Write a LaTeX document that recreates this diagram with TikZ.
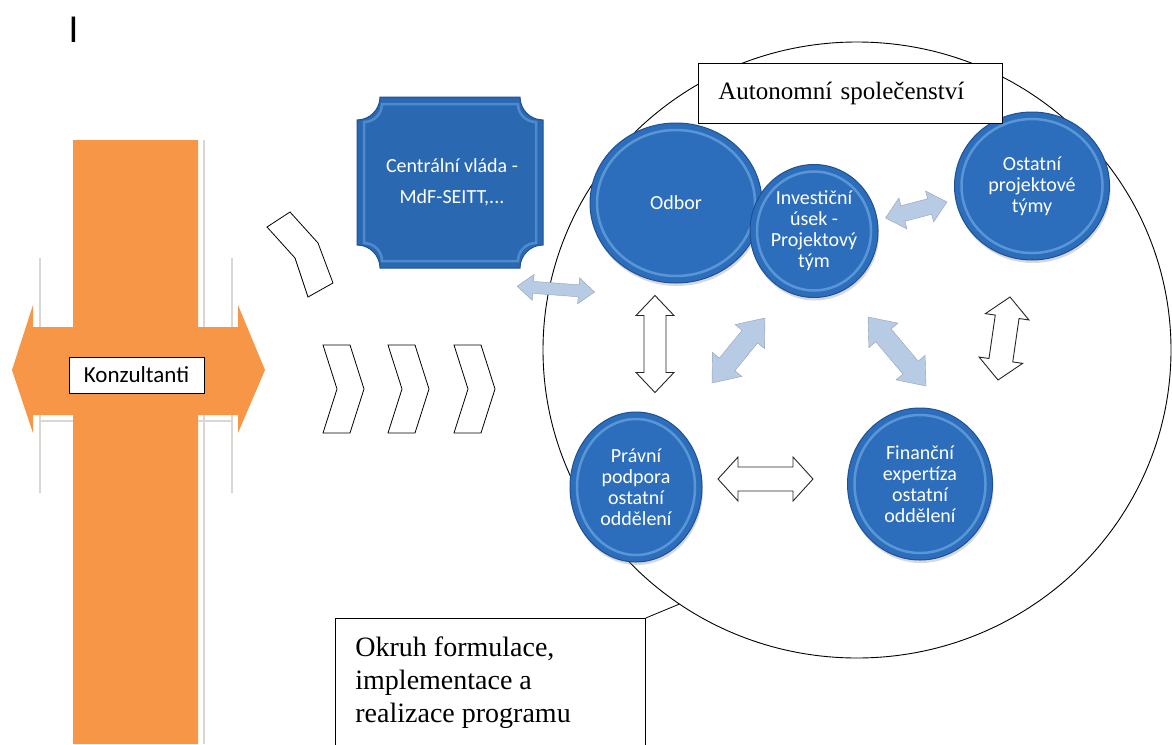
\documentclass[tikz,border=0pt]{standalone}
\usepackage{fontspec}
\setmainfont{Liberation Serif}
\newfontfamily\calibri{Carlito}
\newfontfamily\arialfont{Liberation Sans}
\usetikzlibrary{calc,shapes.geometric,shadows}

\definecolor{consorange}{RGB}{247,150,70}
\definecolor{unitblue}{RGB}{44,110,188}
\definecolor{unitedge}{RGB}{30,80,148}
\definecolor{unitrim}{RGB}{110,168,226}
\definecolor{govblue}{RGB}{42,104,178}
\definecolor{linkblue}{RGB}{184,203,228}
\definecolor{glowgray}{RGB}{218,214,210}

% plaque with hollow corners: style, x1, y1, x2, y2, corner
\newcommand\plaque[6]{%
  \path[#1] ({#2+#6},#3) -- ({#4-#6},#3)
    .. controls ({#4-#6},{#3+0.552*#6}) and ({#4-0.552*#6},{#3+#6}) .. (#4,{#3+#6})
    -- (#4,{#5-#6})
    .. controls ({#4-0.552*#6},{#5-#6}) and ({#4-#6},{#5-0.552*#6}) .. ({#4-#6},#5)
    -- ({#2+#6},#5)
    .. controls ({#2+#6},{#5-0.552*#6}) and ({#2+0.552*#6},{#5-#6}) .. (#2,{#5-#6})
    -- (#2,{#3+#6})
    .. controls ({#2+0.552*#6},{#3+#6}) and ({#2+#6},{#3+0.552*#6}) .. ({#2+#6},#3)
    -- cycle;}

% block arrow with two heads: style, from, to, head length, head half width, shaft half width
\newcommand\blockarrow[6][]{%
  \coordinate (ba-p) at ($(#2)!#4!(#3)$);
  \coordinate (ba-q) at ($(#3)!#4!(#2)$);
  \path[#1] (#2) -- ($(ba-p)!#5!90:(#3)$) -- ($(ba-p)!#6!90:(#3)$)
    -- ($(ba-q)!#6!90:(#3)$) -- ($(ba-q)!#5!90:(#3)$) -- (#3)
    -- ($(ba-q)!#5!-90:(#3)$) -- ($(ba-q)!#6!-90:(#3)$)
    -- ($(ba-p)!#6!-90:(#3)$) -- ($(ba-p)!#5!-90:(#3)$) -- cycle;}

\tikzset{
  unit/.style={ellipse, inner sep=0pt, fill=unitblue, draw=unitedge, line width=1pt,
    text=white, align=center, font=\calibri\fontsize{20}{21}\selectfont,
    drop shadow={shadow xshift=1pt, shadow yshift=-3pt, opacity=.3},
    path picture={\draw[unitrim, line width=2.5pt, opacity=.7]
      let \p1=(path picture bounding box.north east), \p2=(path picture bounding box.center)
      in (\p2) ellipse ({abs(\x1-\x2)-7} and {abs(\y1-\y2)-7});}},
  textbox/.style={draw=black, fill=white, line width=0.8pt, inner sep=0pt},
  chev/.style={draw=black, line width=0.8pt, fill=white},
  linkarrow/.style={fill=linkblue, draw=linkblue!80!black, line width=0.4pt},
  hollowarrow/.style={fill=white, draw=black!85, line width=0.9pt}
}

\begin{document}
\begin{tikzpicture}[x=1pt, y=-1pt]
\fill[white] (0,0) rectangle (1172,744);
\useasboundingbox (0,0) rectangle (1172,744);

\node[inner sep=0pt, font=\arialfont\fontsize{37}{37}\selectfont] (mark) at (73.5,29.5) {I};

% consultants
\draw[glowgray, line width=1.2pt] (40,258) -- (40,493) (232,258) -- (232,493)
  (204,140) -- (204,744) (40,421) -- (73,421) (198,421) -- (232,421);
\fill[consorange] (73,140) -- (198,140) -- (198,327) -- (238,327) -- (238,305)
  -- (265,370) -- (238,433) -- (238,415) -- (198,415) -- (198,744) -- (73,744)
  -- (73,415) -- (33,415) -- (33,433) -- (12,370) -- (33,305) -- (33,327)
  -- (73,327) -- cycle;
\node[textbox, minimum width=135, minimum height=36,
  font=\calibri\fontsize{23}{23}\selectfont] (konz) at (136.5,375) {Konzultanti};

% chevrons
\draw[chev] (267,227) -- (290,212) -- (318,243) -- (333,283) -- (308,297) -- (295,258) -- cycle;
\foreach \cx in {323,388,454}
  \draw[chev] (\cx,345) -- ++(27,0) -- ++(14,44) -- ++(-14,44) -- ++(-27,0) -- ++(14,-44) -- cycle;

% central government
\plaque{fill=govblue, draw=unitedge, line width=1pt}{357}{97}{543}{268}{23}
\plaque{draw=unitrim, line width=2.5pt, opacity=.55}{364}{104}{536}{261}{18}
\node[minimum width=186, minimum height=171, text=white, align=center,
  font=\calibri\fontsize{20}{31}\selectfont] (gov) at (452,182.5) {Centrální vláda -\\MdF-SEITT,...};

% the company
\node[ellipse, draw, line width=0.9pt, minimum width=628, minimum height=616, inner sep=0pt] (ring) at (857,350) {};

\node[unit, minimum width=172, minimum height=160] (odbor) at (676,203) {Odbor};
\node[unit, minimum width=128, minimum height=133] (invest) at (814,231) {Investiční\\úsek -\\Projektový\\tým};
\node[unit, minimum width=155, minimum height=148] (ostatni) at (1032,186) {Ostatní\\projektové\\týmy};
\node[unit, minimum width=132, minimum height=150] (pravni) at (636,487) {Právní\\podpora\\ostatní\\oddělení};
\node[unit, minimum width=145, minimum height=152] (financni) at (920,484) {Finanční\\expertíza\\ostatní\\oddělení};

% links
\coordinate (l1a) at ($(gov.south east)+(-28,18)$);
\coordinate (l1b) at ($(ring.west)+(52,-58)$);
\coordinate (l2a) at ($(invest.east)+(7,-13)$);
\coordinate (l2b) at ($(ostatni.west)+(-7,16)$);
\coordinate (l3a) at ($(pravni)+(76,-104)$);
\coordinate (l3b) at ($(invest)+(-49,87)$);
\coordinate (l4a) at ($(invest)+(54,86)$);
\coordinate (l4b) at ($(financni)+(6,-98)$);
\coordinate (h1a) at ($(odbor.south)+(-21,12)$);
\coordinate (h1b) at ($(pravni.north)+(19,-19)$);
\coordinate (h2a) at ($(ostatni)+(-22,111)$);
\coordinate (h2b) at ($(financni)+(78,-104)$);
\coordinate (h3a) at ($(pravni)+(82,-8)$);
\coordinate (h3b) at ($(financni)+(-107,-5)$);

\blockarrow[linkarrow]{l1a}{l1b}{16pt}{13pt}{6pt}
\blockarrow[linkarrow]{l2a}{l2b}{18pt}{16pt}{8pt}
\blockarrow[linkarrow]{l3a}{l3b}{24pt}{19pt}{10pt}
\blockarrow[linkarrow]{l4a}{l4b}{24pt}{19pt}{10pt}
\blockarrow[hollowarrow]{h1a}{h1b}{20pt}{19pt}{11pt}
\blockarrow[hollowarrow]{h2a}{h2b}{20pt}{22pt}{12pt}
\blockarrow[hollowarrow]{h3a}{h3b}{20pt}{22pt}{12pt}

% labels
\node[textbox, anchor=north west, minimum width=304, minimum height=60, text width=264,
  inner xsep=20pt, align=left, font=\fontsize{25}{30}\selectfont] (auto) at (698,63) {Autonomní společenství};
\node[textbox, anchor=north west] (okruh) at (335,618) {\parbox[t][140pt][t]{310pt}{%
  \fontsize{28}{33}\selectfont\leftskip=20pt\relax\vspace*{18pt}%
  Okruh formulace,\\implementace a\\realizace programu}};
\draw[line width=0.8pt] (okruh.north east) -- (ring.235);
\end{tikzpicture}
\end{document}
